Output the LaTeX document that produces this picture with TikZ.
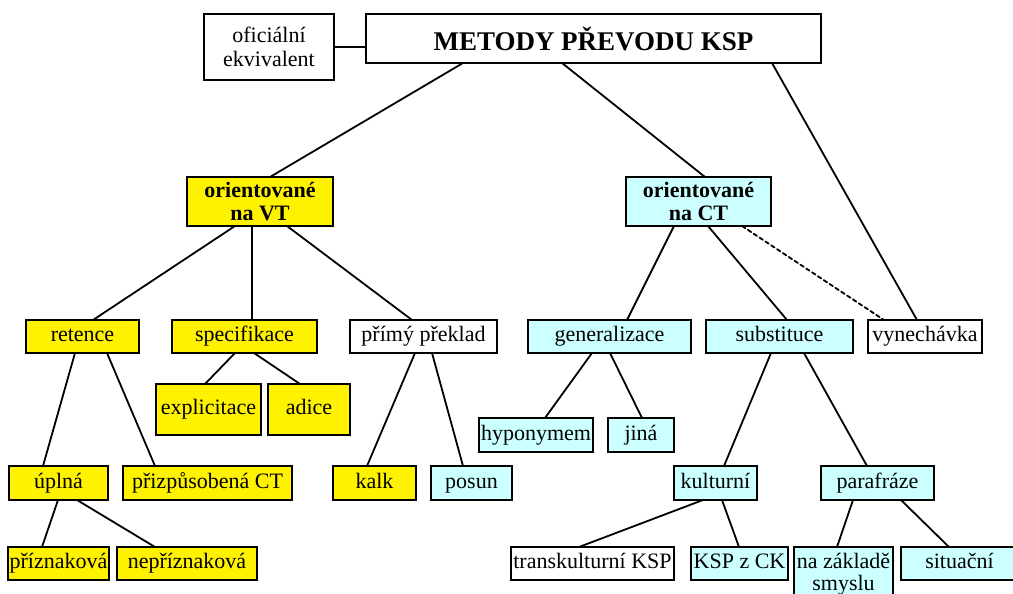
\documentclass[tikz,border=0pt]{standalone}
\usepackage{fontspec}
\setmainfont{Liberation Serif}
\definecolor{paleCyan}{RGB}{204,255,255}
\tikzset{
  kbox/.style={draw=black, line width=2pt, inner sep=0pt, outer sep=0pt, align=center,
    font=\fontsize{22}{24}\selectfont},
  vtbox/.style={kbox, fill=yellow},
  ctbox/.style={kbox, fill=paleCyan},
  wbox/.style={kbox, fill=white},
  oneline/.style={text height=15.5pt, text depth=5pt},
  link/.style={line width=1.8pt, line cap=round},
}
\begin{document}
\begin{tikzpicture}[x=1pt, y=-1pt]
  \useasboundingbox (0,0) rectangle (1013,594);
  % top
  \node[wbox, minimum width=130pt, minimum height=66pt] (ofic) at (269,47) {oficiální\\ekvivalent};
  \node[wbox, minimum width=455pt, minimum height=49pt, font=\fontsize{27}{30}\selectfont\bfseries] (title) at (593.5,38.5) {METODY PŘEVODU KSP};
  \node[vtbox, minimum width=146pt, minimum height=49pt, font=\fontsize{22}{23}\selectfont\bfseries] (vt) at (260,201.5) {orientované\\na VT};
  \node[ctbox, minimum width=145pt, minimum height=49pt, font=\fontsize{22}{23}\selectfont\bfseries] (ct) at (698.5,201.5) {orientované\\na CT};
  % second row
  \begin{scope}[every node/.append style={oneline}]
  \node[vtbox, minimum width=113pt, minimum height=33pt] (ret) at (82.5,336.5) {retence};
  \node[vtbox, minimum width=145pt, minimum height=33pt] (spec) at (244.5,336.5) {specifikace};
  \node[wbox, minimum width=147pt, minimum height=33pt] (prim) at (423.5,336.5) {přímý překlad};
  \node[ctbox, minimum width=163pt, minimum height=33pt] (gen) at (609.5,336.5) {generalizace};
  \node[ctbox, minimum width=147pt, minimum height=33pt] (subst) at (779.5,336.5) {substituce};
  \node[wbox, minimum width=114pt, minimum height=33pt] (vyne) at (925,336.5) {vynechávka};
  % third row
  \node[vtbox, minimum width=105pt, minimum height=51pt] (expl) at (208.5,409.5) {explicitace};
  \node[vtbox, minimum width=82pt, minimum height=51pt] (adice) at (309,409.5) {adice};
  \node[ctbox, minimum width=114pt, minimum height=34pt] (hypo) at (536,435) {hyponymem};
  \node[ctbox, minimum width=66pt, minimum height=34pt] (jina) at (641,435) {jiná};
  \node[vtbox, minimum width=99pt, minimum height=34pt] (upl) at (58.5,483) {úplná};
  \node[vtbox, minimum width=169pt, minimum height=34pt] (prizp) at (207.5,483) {přizpůsobená CT};
  \node[vtbox, minimum width=83pt, minimum height=34pt] (kalk) at (374.5,483) {kalk};
  \node[ctbox, minimum width=81pt, minimum height=34pt] (posun) at (471.5,483) {posun};
  \node[ctbox, minimum width=83pt, minimum height=34pt] (kult) at (715.5,483) {kulturní};
  \node[ctbox, minimum width=113pt, minimum height=34pt] (paraf) at (877.5,483) {parafráze};
  % bottom row
  \node[vtbox, minimum width=101pt, minimum height=33pt] (prizn) at (58.5,563.5) {příznaková};
  \node[vtbox, minimum width=140pt, minimum height=33pt] (neprizn) at (187,563.5) {nepříznaková};
  \node[wbox, minimum width=163pt, minimum height=33pt] (trans) at (592.5,563.5) {transkulturní KSP};
  \node[ctbox, minimum width=97pt, minimum height=33pt] (kspck) at (739.5,563.5) {KSP z CK};
  \node[ctbox, minimum width=117pt, minimum height=33pt] (sit) at (959.5,563.5) {situační};
  \end{scope}
  \node[ctbox, minimum width=99pt, minimum height=54pt, anchor=north, font=\fontsize{22}{22.5}\selectfont] (naz) at (843.5,547) {na základě\\smyslu};
  % connectors
  \draw[link] (ofic.east) -- (ofic.east -| title.west);
  \foreach \a/\da/\b/\db in {title/-130.5/vt/10, title/-31.5/ct/6.5, title/178.5/vyne/-8,
      vt/-25/ret/10.5, vt/-8/spec/7.5, vt/27/prim/-11.5,
      ct/-24.5/gen/17.5, ct/9.5/subst/7.5,
      ret/-7.5/upl/-15.5, ret/24.5/prizp/-52.5,
      spec/-9.5/expl/-3.5, spec/9.5/adice/-9,
      prim/-8.5/kalk/-7.5, prim/8.5/posun/-8.5,
      gen/-17.5/hypo/9, gen/0.5/jina/1,
      subst/-8.5/kult/8.5, subst/24.5/paraf/-10.5,
      upl/-0.5/prizn/-16.5, upl/18.5/neprizn/-32,
      kult/-12.5/trans/-13.5, kult/6.5/kspck/-0.5,
      paraf/-24.5/naz/-6.5, paraf/23.5/sit/-10.5}
    \draw[link] ([xshift=\da pt]\a.south) -- ([xshift=\db pt]\b.north);
  \draw[link, dash pattern=on 4pt off 3pt] ([xshift=43.5pt]ct.south) -- ([xshift=-41pt]vyne.north);
\end{tikzpicture}
\end{document}
